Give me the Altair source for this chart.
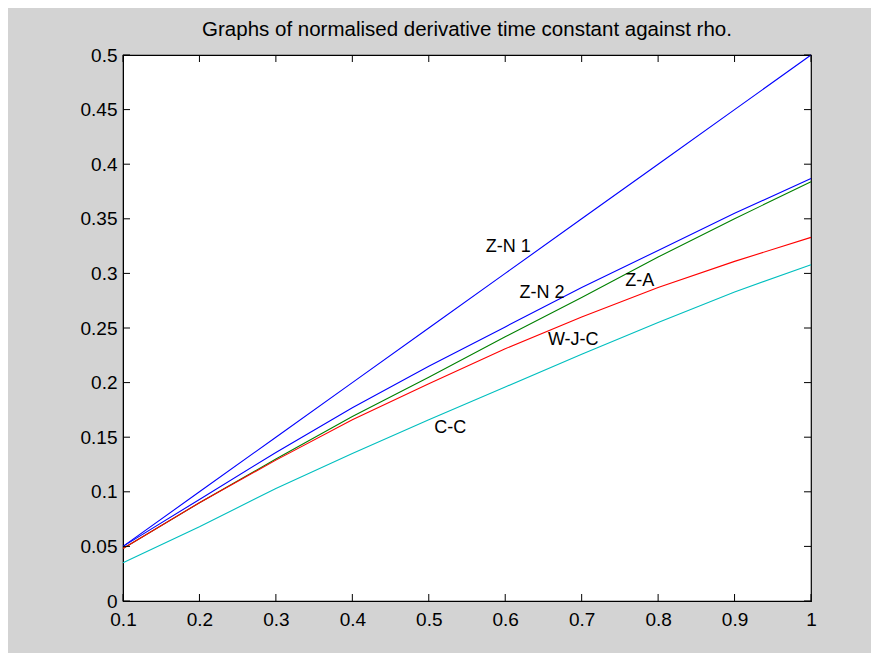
import altair as alt
import pandas as pd

rho = [0.1, 0.2, 0.3, 0.4, 0.5, 0.6, 0.7, 0.8, 0.9, 1.0]
zn1 = [0.050, 0.100, 0.150, 0.200, 0.250, 0.300, 0.350, 0.400, 0.450, 0.500]
zn2 = [0.050, 0.093, 0.136, 0.177, 0.215, 0.251, 0.287, 0.321, 0.355, 0.387]
za = [0.048, 0.090, 0.130, 0.169, 0.205, 0.242, 0.278, 0.315, 0.350, 0.384]
wjc = [0.048, 0.090, 0.129, 0.166, 0.199, 0.231, 0.260, 0.287, 0.311, 0.333]
cc = [0.035, 0.068, 0.103, 0.135, 0.166, 0.196, 0.226, 0.255, 0.283, 0.308]

series_names = ["Z-N 1", "Z-N 2", "Z-A", "W-J-C", "C-C"]
series_colors = ["#0000ff", "#0000fe", "#008000", "#ff0000", "#00bfbf"]

label_text = ["Z-N 1", "Z-N 2", "Z-A", "W-J-C", "C-C"]
label_x = [0.604, 0.648, 0.776, 0.689, 0.528]
label_y = [0.324, 0.282, 0.293, 0.239, 0.158]

x_ticks = [0.1, 0.2, 0.3, 0.4, 0.5, 0.6, 0.7, 0.8, 0.9, 1.0]
y_ticks = [0, 0.05, 0.1, 0.15, 0.2, 0.25, 0.3, 0.35, 0.4, 0.45, 0.5]

title = "Graphs of normalised derivative time constant against rho."

W, H = 688, 546
TL = 7

rows = []
for name, vals in zip(series_names, [zn1, zn2, za, wjc, cc]):
    for r, v in zip(rho, vals):
        rows.append({"rho": r, "value": v, "series": name})
df = pd.DataFrame(rows)
labels_df = pd.DataFrame({"text": label_text, "x": label_x, "y": label_y})
xt_df = pd.DataFrame({"t": x_ticks})
yt_df = pd.DataFrame({"t": y_ticks})

xscale = alt.Scale(domain=[0.1, 1.0], nice=False, zero=False)
yscale = alt.Scale(domain=[0, 0.5], nice=False, zero=False)

font = "Liberation Sans"

xaxis = alt.Axis(values=x_ticks, labelExpr="format(datum.value, '~g')", title=None,
                 ticks=False, grid=False, domainColor="black", labelColor="black",
                 labelFont=font, labelFontSize=19, labelPadding=9, labelFlush=False,
                 labelOverlap=False)
yaxis = alt.Axis(values=y_ticks, labelExpr="format(datum.value, '~g')", title=None,
                 ticks=False, grid=False, domainColor="black", labelColor="black",
                 labelFont=font, labelFontSize=19, labelPadding=6, labelFlush=False,
                 labelOverlap=False)

lines = alt.Chart(df).mark_line(strokeWidth=1.1).encode(
    x=alt.X("rho:Q", scale=xscale, axis=xaxis),
    y=alt.Y("value:Q", scale=yscale, axis=yaxis),
    color=alt.Color("series:N", scale=alt.Scale(domain=series_names, range=series_colors), legend=None),
    detail="series:N",
)

texts = alt.Chart(labels_df).mark_text(font=font, fontSize=18, color="black").encode(
    x=alt.X("x:Q", scale=xscale),
    y=alt.Y("y:Q", scale=yscale),
    text="text:N",
)

bt = alt.Chart(xt_df).mark_rule(color="black").encode(
    x=alt.X("t:Q", scale=xscale), y=alt.value(H), y2=alt.value(H - TL))
tt = alt.Chart(xt_df).mark_rule(color="black").encode(
    x=alt.X("t:Q", scale=xscale), y=alt.value(0), y2=alt.value(TL))
lt = alt.Chart(yt_df).mark_rule(color="black").encode(
    y=alt.Y("t:Q", scale=yscale), x=alt.value(0), x2=alt.value(TL))
rt = alt.Chart(yt_df).mark_rule(color="black").encode(
    y=alt.Y("t:Q", scale=yscale), x=alt.value(W), x2=alt.value(W - TL))

chart = alt.layer(lines, texts, bt, tt, lt, rt).properties(
    width=W, height=H,
    title=alt.TitleParams(title, font=font, fontSize=20.5, fontWeight="normal",
                          color="black", offset=6, anchor="middle"),
    background="#d3d3d3",
    padding={"left": 115, "top": 47, "right": 60, "bottom": 52},
    autosize=alt.AutoSizeParams(type="none"),
).configure_view(fill="white", stroke="black", strokeWidth=1.2)

chart.save("out.html", embed_options={"renderer": "svg", "actions": False})
